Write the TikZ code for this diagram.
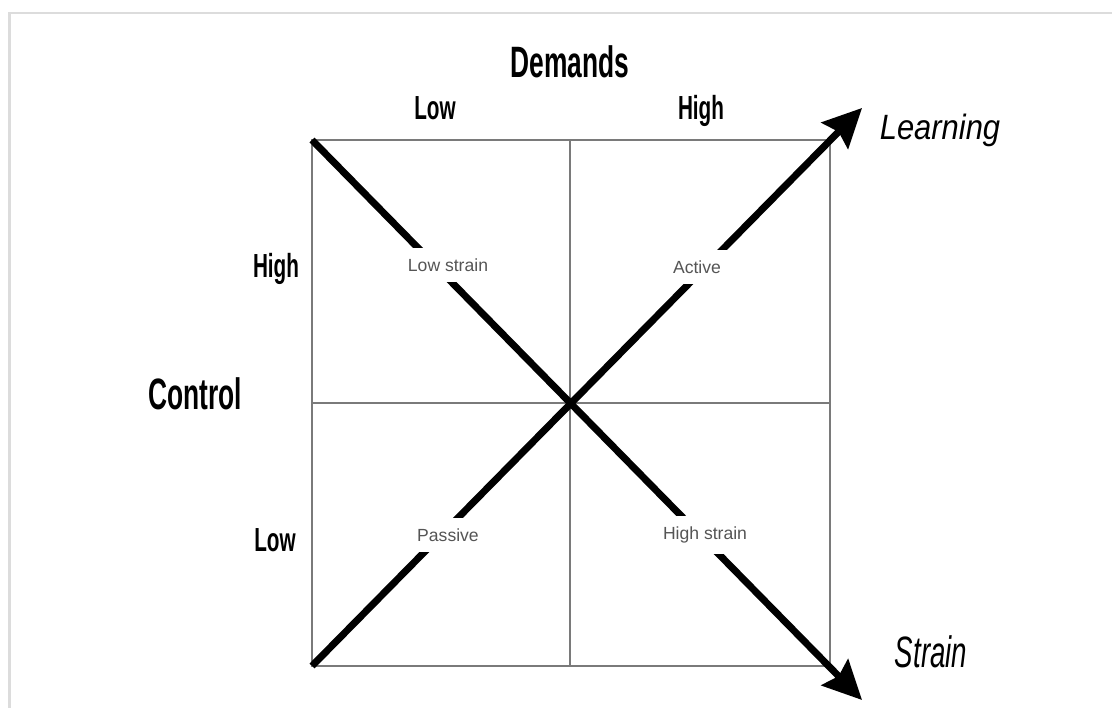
\documentclass[tikz,border=0pt]{standalone}
\usepackage{graphicx}
\usepackage{fontspec}
\setmainfont{Liberation Sans}
\usetikzlibrary{arrows.meta}
\usetikzlibrary{positioning}

\definecolor{gridgray}{HTML}{7A7A7A}
\definecolor{framegray}{HTML}{DCDCDC}
\definecolor{quadgray}{HTML}{555555}

% condensed text
\newcommand{\cnd}[2]{\scalebox{#1}[1]{#2}}

\tikzset{
  bigtitle/.style={font=\fontsize{12.5}{14}\selectfont\bfseries, inner sep=0pt},
  levtext/.style={font=\fontsize{9.5}{11}\selectfont\bfseries, inner sep=0pt, anchor=base},
  outtext/.style={font=\fontsize{10}{12}\selectfont\itshape, inner sep=0pt, anchor=base},
  quadtext/.style={font=\fontsize{5}{6}\selectfont, text=quadgray, fill=white, inner sep=3pt},
  diag/.style={line width=2pt, -{Stealth[length=11pt, width=10.5pt, inset=1.5pt]}},
}

\begin{document}
\begin{tikzpicture}
\useasboundingbox (0,0) rectangle (11.12,7.08);

% frame
\draw[framegray, line width=0.6pt] (0.095,0) -- (0.095,6.95) -- (11.12,6.95);

% square
\coordinate (ll) at (3.12,0.42);
\coordinate (ur) at (8.30,5.68);
\coordinate (ul) at (3.12,5.68);
\coordinate (lr) at (8.30,0.42);
\coordinate (mt) at (5.70,5.68);
\coordinate (mb) at (5.70,0.42);
\coordinate (ml) at (3.12,3.05);
\coordinate (mr) at (8.30,3.05);
\coordinate (learntip) at (8.62,6.00);
\coordinate (straintip) at (8.62,0.08);

\draw[gridgray, line width=0.6pt] (ll) rectangle (ur);
\draw[gridgray, line width=0.6pt] (mt) -- (mb);
\draw[gridgray, line width=0.6pt] (ml) -- (mr);

% diagonals
\draw[diag] (ll) -- (learntip);
\draw[diag] (ul) -- (straintip);

% quadrants
\node[quadtext] (lowstrain) at (4.48,4.43) {Low strain};
\node[quadtext] (active) at (6.97,4.41) {Active};
\node[quadtext] (passive) at (4.48,1.73) {Passive};
\node[quadtext] (highstrain) at (7.05,1.73) {High strain};

% axis labels
\node[bigtitle] (demands) at (5.70,6.46) {\cnd{0.6}{Demands}};
\node[bigtitle] (control) at (1.95,3.14) {\cnd{0.6}{Control}};

\node[levtext] (dlow) at (4.35,5.88) {\cnd{0.62}{Low}};
\node[levtext] (dhigh) at (7.01,5.88) {\cnd{0.62}{High}};
\node[levtext] (chigh) at (2.76,4.30) {\cnd{0.62}{High}};
\node[levtext] (clow) at (2.75,1.56) {\cnd{0.62}{Low}};

\node[outtext] (learning) at (9.40,5.68) {\cnd{0.88}{Learning}};
\node[outtext, font=\fontsize{12.5}{14}\selectfont\itshape] (strain) at (9.31,0.40) {\cnd{0.63}{Strain}};
\end{tikzpicture}
\end{document}
